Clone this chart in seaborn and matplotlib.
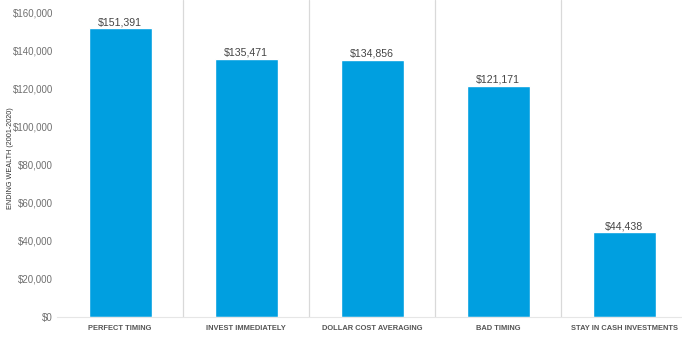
import matplotlib
matplotlib.use("Agg")
import matplotlib.pyplot as plt
import seaborn as sns
import pandas as pd

categories = ["PERFECT TIMING", "INVEST IMMEDIATELY", "DOLLAR COST AVERAGING",
              "BAD TIMING", "STAY IN CASH INVESTMENTS"]
ending_wealth = [151391, 135471, 134856, 121171, 44438]
y_ticks = [0, 20000, 40000, 60000, 80000, 100000, 120000, 140000, 160000]

df = pd.DataFrame({"strategy": categories, "wealth": ending_wealth})

sns.set_theme(style="white")
plt.rcParams["font.family"] = ["Liberation Sans", "DejaVu Sans"]

fig = plt.figure(figsize=(6.82, 3.38), dpi=100)
ax = fig.add_axes([0.0836, 0.062, 0.9238, 0.938])

sns.barplot(data=df, x="strategy", y="wealth", color="#009FE0",
            width=0.5, saturation=1, ax=ax)

ax.set_xlim(-0.5, len(categories) - 0.5)
ax.set_ylim(0, 166300)
ax.set_yticks(y_ticks)
ax.set_yticklabels([f"${v:,.0f}" for v in y_ticks], color="#707070", fontsize=7)
ax.set_xticks(range(len(categories)))
ax.set_xticklabels(categories, fontsize=5.4, fontweight="bold", color="#555555")
ax.tick_params(axis="y", length=0, pad=3)
ax.tick_params(axis="x", length=0, pad=6)

ax.set_xlabel("")
ax.set_ylabel("ENDING WEALTH (2001-2020)", fontsize=5.2, color="#333333")
ax.yaxis.set_label_coords(-0.068, 0.5)

for s in ["top", "right", "left"]:
    ax.spines[s].set_visible(False)
ax.spines["bottom"].set_color("#e6e6e6")
ax.spines["bottom"].set_linewidth(0.8)

# separators between strategy groups
for i in range(len(categories) - 1):
    ax.axvline(i + 0.5, color="#d9d9d9", linewidth=0.9, zorder=0)

for i, v in enumerate(ending_wealth):
    ax.text(i, v + 600, f"${v:,.0f}", ha="center", va="bottom",
            fontsize=7.6, color="#444444")

fig.savefig("out.png", dpi=100)
